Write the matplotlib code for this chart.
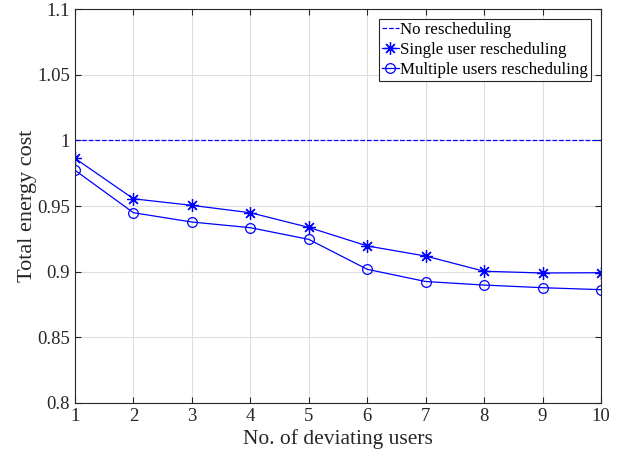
import numpy as np
import matplotlib.pyplot as plt

plt.rcParams['font.family'] = ['Liberation Serif', 'DejaVu Serif']

# Data
users = [1, 2, 3, 4, 5, 6, 7, 8, 9, 10]
no_resched = [1.0] * 10
single = [0.9863, 0.9555, 0.9505, 0.9449, 0.9337, 0.9196, 0.9119, 0.9003, 0.8990, 0.8992]
multiple = [0.9772, 0.9449, 0.9378, 0.9335, 0.9246, 0.9018, 0.8925, 0.8898, 0.8878, 0.8863]

blue = '#0000ff'
dark = '#262626'

fig = plt.figure(figsize=(6.25, 4.57), dpi=100)
ax = fig.add_axes([0.12, 0.1182, 0.8416, 0.862])

ax.plot(users, no_resched, '--', color=blue, lw=0.9, label='No rescheduling')
ax.plot(users, single, '-', color=blue, lw=0.9, marker=(8, 2, 0), markersize=9,
        markeredgewidth=0.9, label='Single user rescheduling')
ax.plot(users, multiple, '-', color=blue, lw=0.9, marker='o', markersize=7,
        markerfacecolor='none', markeredgewidth=0.9, label='Multiple users rescheduling')

ax.set_xlim(1, 10)
ax.set_ylim(0.8, 1.1)
ax.set_xticks(users)
ax.set_yticks([0.8, 0.85, 0.9, 0.95, 1.0, 1.05, 1.1])
ax.set_yticklabels(['0.8', '0.85', '0.9', '0.95', '1', '1.05', '1.1'])
ax.tick_params(direction='in', labelsize=13.5, top=True, right=True, length=4,
               colors=dark)
for s in ax.spines.values():
    s.set_color(dark)
    s.set_linewidth(0.8)
ax.grid(True, color='#dedede', lw=0.8)
ax.set_axisbelow(True)

ax.set_xlabel('No. of deviating users', fontsize=15.5, labelpad=3, color=dark)
ax.set_ylabel('Total energy cost', fontsize=16, labelpad=0, color=dark)

leg = ax.legend(loc='upper right', fontsize=12.2, fancybox=False, framealpha=1,
                edgecolor=dark, handlelength=1.0, handletextpad=0.1,
                borderpad=0.15, labelspacing=0.25, borderaxespad=0.6)
leg.get_frame().set_linewidth(0.8)

fig.savefig('out.png', dpi=100)
